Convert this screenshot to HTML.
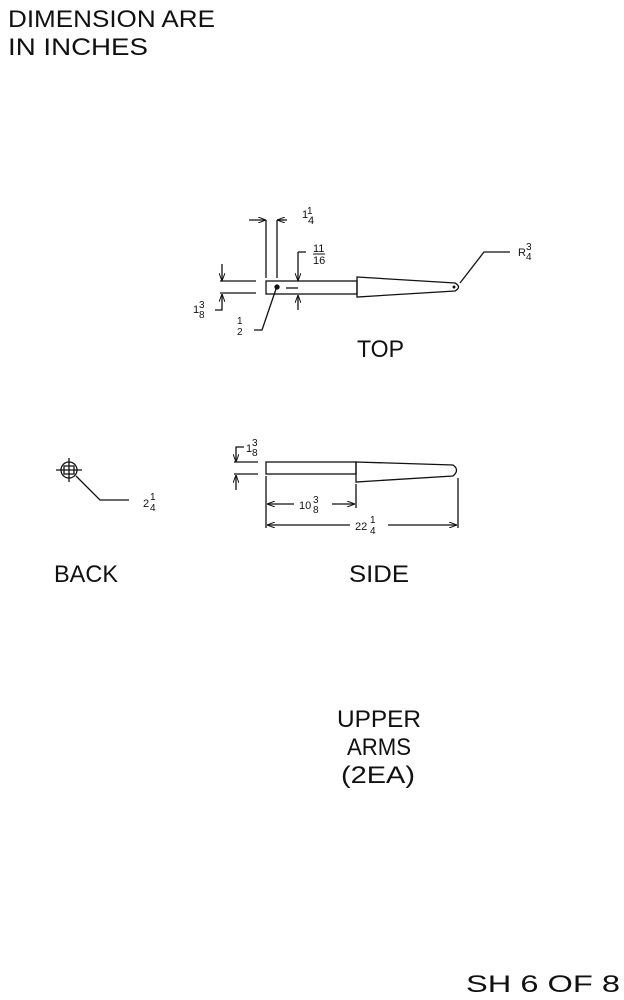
<!DOCTYPE html>
<html><head><meta charset="utf-8"><style>
html,body{margin:0;padding:0;background:#fff;width:624px;height:1000px;overflow:hidden}
svg{display:block}
text{font-family:"Liberation Sans",sans-serif;fill:#111}
</style></head><body>
<svg width="624" height="1000" viewBox="0 0 624 1000" xmlns="http://www.w3.org/2000/svg">
<defs>
<marker id="a" markerWidth="8" markerHeight="6" refX="8" refY="3" orient="auto" markerUnits="userSpaceOnUse"><path d="M0,0 L8,3 L0,6" fill="none" stroke="#111" stroke-width="1"/></marker>
</defs>
<g font-size="24">
<text x="8" y="27" textLength="207" lengthAdjust="spacingAndGlyphs">DIMENSION ARE</text>
<text x="8" y="55" textLength="140" lengthAdjust="spacingAndGlyphs">IN INCHES</text>
<text x="357" y="357" textLength="47" lengthAdjust="spacingAndGlyphs">TOP</text>
<text x="54" y="582" textLength="64" lengthAdjust="spacingAndGlyphs">BACK</text>
<text x="349" y="582" textLength="60" lengthAdjust="spacingAndGlyphs">SIDE</text>
<text x="337" y="727" textLength="84" lengthAdjust="spacingAndGlyphs">UPPER</text>
<text x="347" y="755" textLength="64" lengthAdjust="spacingAndGlyphs">ARMS</text>
<text x="341" y="783" textLength="74" lengthAdjust="spacingAndGlyphs">(2EA)</text>
<text x="466" y="992" textLength="154" lengthAdjust="spacingAndGlyphs">SH 6 OF 8</text>
</g>
<g fill="none" stroke="#111" stroke-width="1.3">
<!-- TOP view -->
<rect x="266" y="281" width="91" height="13"/>
<path d="M357 277 L455 283 Q462 287 455 291 L357 297 Z"/>
<circle cx="277" cy="287" r="2" fill="#111"/>
<circle cx="454" cy="287" r="0.8" fill="#111"/>
<path d="M286 288 H298"/>
<path d="M266 278 V220 M277 278 V220"/>
<path d="M249 220 H266" marker-end="url(#a)"/>
<path d="M287 220 H277" marker-end="url(#a)"/>
<path d="M298 252 H306 M298 252 V281" marker-end="url(#a)"/>
<path d="M298 310 V295" marker-end="url(#a)"/>
<path d="M220 281 H256 M220 293 H256"/>
<path d="M222 264 V281" marker-end="url(#a)"/>
<path d="M215 310 H222 V294" marker-end="url(#a)"/>
<path d="M276 289 L262 330 H254"/>
<path d="M460 283 L484 252 H510"/>
<!-- SIDE view -->
<rect x="266" y="462" width="90" height="12"/>
<path d="M356 462 L453 465 Q460 470 453 476 L356 482 Z"/>
<path d="M234 462 H258 M234 474 H258"/>
<path d="M244 447 H236 V462" marker-end="url(#a)"/>
<path d="M236 490 V475" marker-end="url(#a)"/>
<path d="M266 476 V528 M356 484 V508 M458 478 V528"/>
<path d="M294 504 H267" marker-end="url(#a)"/>
<path d="M332 504 H355" marker-end="url(#a)"/>
<path d="M350 525 H267" marker-end="url(#a)"/>
<path d="M388 525 H457" marker-end="url(#a)"/>
<!-- BACK view -->
<circle cx="69" cy="470" r="8"/>
<path d="M56 470 H82 M69 458 V482 M64 466 H74 V474 H64 Z"/>
<path d="M76 476 L100 500 H129"/>
</g>
<g font-size="11">
<text x="302" y="218">1</text><text x="308" y="224">4</text><text x="307" y="214" font-size="10">1</text>
<text x="313" y="252">11</text><path d="M313 254 H325" stroke="#111"/><text x="313" y="264">16</text>
<text x="193" y="313">1</text><text x="199" y="308" font-size="10">3</text><text x="199" y="318" font-size="10">8</text>
<text x="237" y="324" font-size="10">1</text><text x="237" y="335" font-size="10">2</text>
<text x="518" y="256">R</text><text x="526" y="250" font-size="10">3</text><text x="526" y="260" font-size="10">4</text>
<text x="246" y="452">1</text><text x="252" y="446" font-size="10">3</text><text x="252" y="456" font-size="10">8</text>
<text x="299" y="509">10</text><text x="313" y="503" font-size="10">3</text><text x="313" y="513" font-size="10">8</text>
<text x="355" y="530">22</text><text x="370" y="523" font-size="10">1</text><text x="370" y="534" font-size="10">4</text>
<text x="143" y="507">2</text><text x="150" y="500" font-size="10">1</text><text x="150" y="511" font-size="10">4</text>
</g>
</svg>
</body></html>
